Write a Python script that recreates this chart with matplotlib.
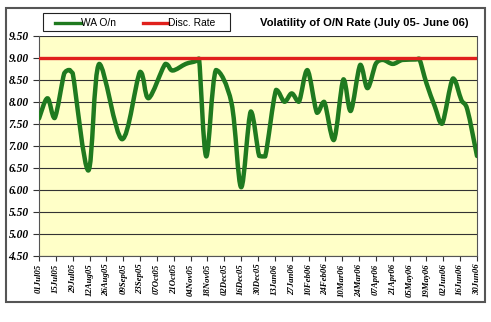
import datetime as dt
import numpy as np
import matplotlib
matplotlib.use("Agg")
import matplotlib.pyplot as plt
import matplotlib.dates as mdates
from matplotlib.path import Path
from matplotlib.patches import PathPatch, Rectangle
from matplotlib.lines import Line2D

# weighted average overnight rate, July 2005 - June 2006
dates = [
    "2005-07-01", "2005-07-08", "2005-07-14", "2005-07-22", "2005-07-26",
    "2005-07-29", "2005-08-11", "2005-08-20", "2005-09-08", "2005-09-23",
    "2005-09-30", "2005-10-14", "2005-10-20", "2005-10-31", "2005-11-08",
    "2005-11-11", "2005-11-17", "2005-11-25", "2005-12-08", "2005-12-16",
    "2005-12-24", "2005-12-31", "2006-01-05", "2006-01-14", "2006-01-21",
    "2006-01-27", "2006-02-02", "2006-02-09", "2006-02-17", "2006-02-23",
    "2006-03-03", "2006-03-11", "2006-03-17", "2006-03-25", "2006-03-31",
    "2006-04-07", "2006-04-13", "2006-04-21", "2006-04-29", "2006-05-10",
    "2006-05-13", "2006-05-19", "2006-05-26", "2006-06-01", "2006-06-10",
    "2006-06-17", "2006-06-22", "2006-06-30",
]
wa_on = [
    7.62, 8.08, 7.63, 8.65, 8.72,
    8.65, 6.44, 8.86, 7.15, 8.68,
    8.08, 8.86, 8.71, 8.86, 8.92,
    8.98, 6.76, 8.72, 7.97, 6.06,
    7.78, 6.77, 6.76, 8.27, 8.00,
    8.19, 8.00, 8.72, 7.75, 8.00,
    7.13, 8.51, 7.79, 8.84, 8.31,
    8.87, 8.95, 8.86, 8.95, 8.96,
    8.98, 8.42, 7.89, 7.50, 8.53,
    8.04, 7.82, 6.77,
]
disc_rate = 9.00
series_names = ["WA O/n", "Disc. Rate"]

start = dt.date(2005, 7, 1)
end = dt.date(2006, 6, 30)
tick_dates = [start + dt.timedelta(days=14 * i) for i in range(27)]
y_ticks = np.arange(4.5, 9.51, 0.5)

green = "#1f7a1f"
red = "#e0201c"
W, H = 491, 322


def smooth_path(xs, ys):
    # Catmull-Rom curve as cubic Beziers; control heights kept inside each
    # segment's range so the curve never overshoots the data
    pts = np.column_stack([xs, ys])
    verts = [pts[0]]
    codes = [Path.MOVETO]
    n = len(pts)
    for i in range(n - 1):
        p0 = pts[i - 1] if i > 0 else pts[i]
        p1 = pts[i]
        p2 = pts[i + 1]
        p3 = pts[i + 2] if i + 2 < n else pts[i + 1]
        c1 = p1 + (p2 - p0) / 6.0
        c2 = p2 - (p3 - p1) / 6.0
        lo, hi = min(p1[1], p2[1]), max(p1[1], p2[1])
        c1[1] = np.clip(c1[1], lo, hi)
        c2[1] = np.clip(c2[1], lo, hi)
        verts += [c1, c2, p2]
        codes += [Path.CURVE4] * 3
    return Path(verts, codes)


def fx(px):
    return px / W


def fy(py):
    return 1 - py / H


fig = plt.figure(figsize=(W / 100, H / 100), dpi=100)
fig.patch.set_facecolor("white")

# chart area border
fig.patches.append(Rectangle((fx(6), fy(302)), 479 / W, 294 / H,
                             transform=fig.transFigure, fill=False,
                             edgecolor="#555555", linewidth=1.5))

ax = fig.add_axes([fx(39), fy(256), 438 / W, 220.3 / H])
ax.set_facecolor("#ffffc8")

x = mdates.date2num([dt.date.fromisoformat(d) for d in dates])
ax.add_patch(PathPatch(smooth_path(x, wa_on), facecolor="none",
                       edgecolor=green, linewidth=3.2, capstyle="round",
                       joinstyle="round", zorder=3))
ax.axhline(disc_rate, color=red, linewidth=2.4, zorder=4)

ax.set_xlim(mdates.date2num(start), mdates.date2num(end))
ax.set_ylim(4.5, 9.5)
ax.set_yticks(y_ticks)
ax.set_yticklabels([f"{v:.2f}" for v in y_ticks],
                   fontfamily="Liberation Serif", fontweight="bold",
                   fontstyle="italic", fontsize=8.3)
ax.set_xticks(mdates.date2num(tick_dates))
ax.set_xticklabels([d.strftime("%d%b%y") for d in tick_dates], rotation=90,
                   fontfamily="Liberation Serif", fontweight="bold",
                   fontstyle="italic", fontsize=6.3)
ax.tick_params(axis="y", length=4.5, width=0.8, color="#333333", pad=3)
ax.tick_params(axis="x", length=3.5, width=0.8, color="#333333", pad=2)
ax.grid(axis="y", color="#333333", linewidth=0.8)
ax.set_axisbelow(True)
for side in ["left", "bottom", "right"]:
    ax.spines[side].set_color("#555555")
    ax.spines[side].set_linewidth(0.8)
ax.spines["top"].set_visible(False)

fig.text(fx(364), fy(23), "Volatility of O/N Rate (July 05- June 06)",
         fontsize=8.1, fontweight="bold", fontfamily="Liberation Sans",
         ha="center", va="center")

# legend box drawn in figure coordinates
fig.patches.append(Rectangle((fx(42.5), fy(31)), 187 / W, 18 / H,
                             transform=fig.transFigure, facecolor="white",
                             edgecolor="#222222", linewidth=0.8))
legend_items = [(series_names[0], green, 55, 81), (series_names[1], red, 143, 168)]
for name, color, x0, x1 in legend_items:
    fig.lines.append(Line2D([fx(x0), fx(x1)], [fy(22.5), fy(22.5)],
                            transform=fig.transFigure, color=color,
                            linewidth=2.4))
    fig.text(fx(x1), fy(22.5), name, fontsize=7.4,
             fontfamily="Liberation Sans", ha="left", va="center")

fig.savefig("out.png", dpi=100)
